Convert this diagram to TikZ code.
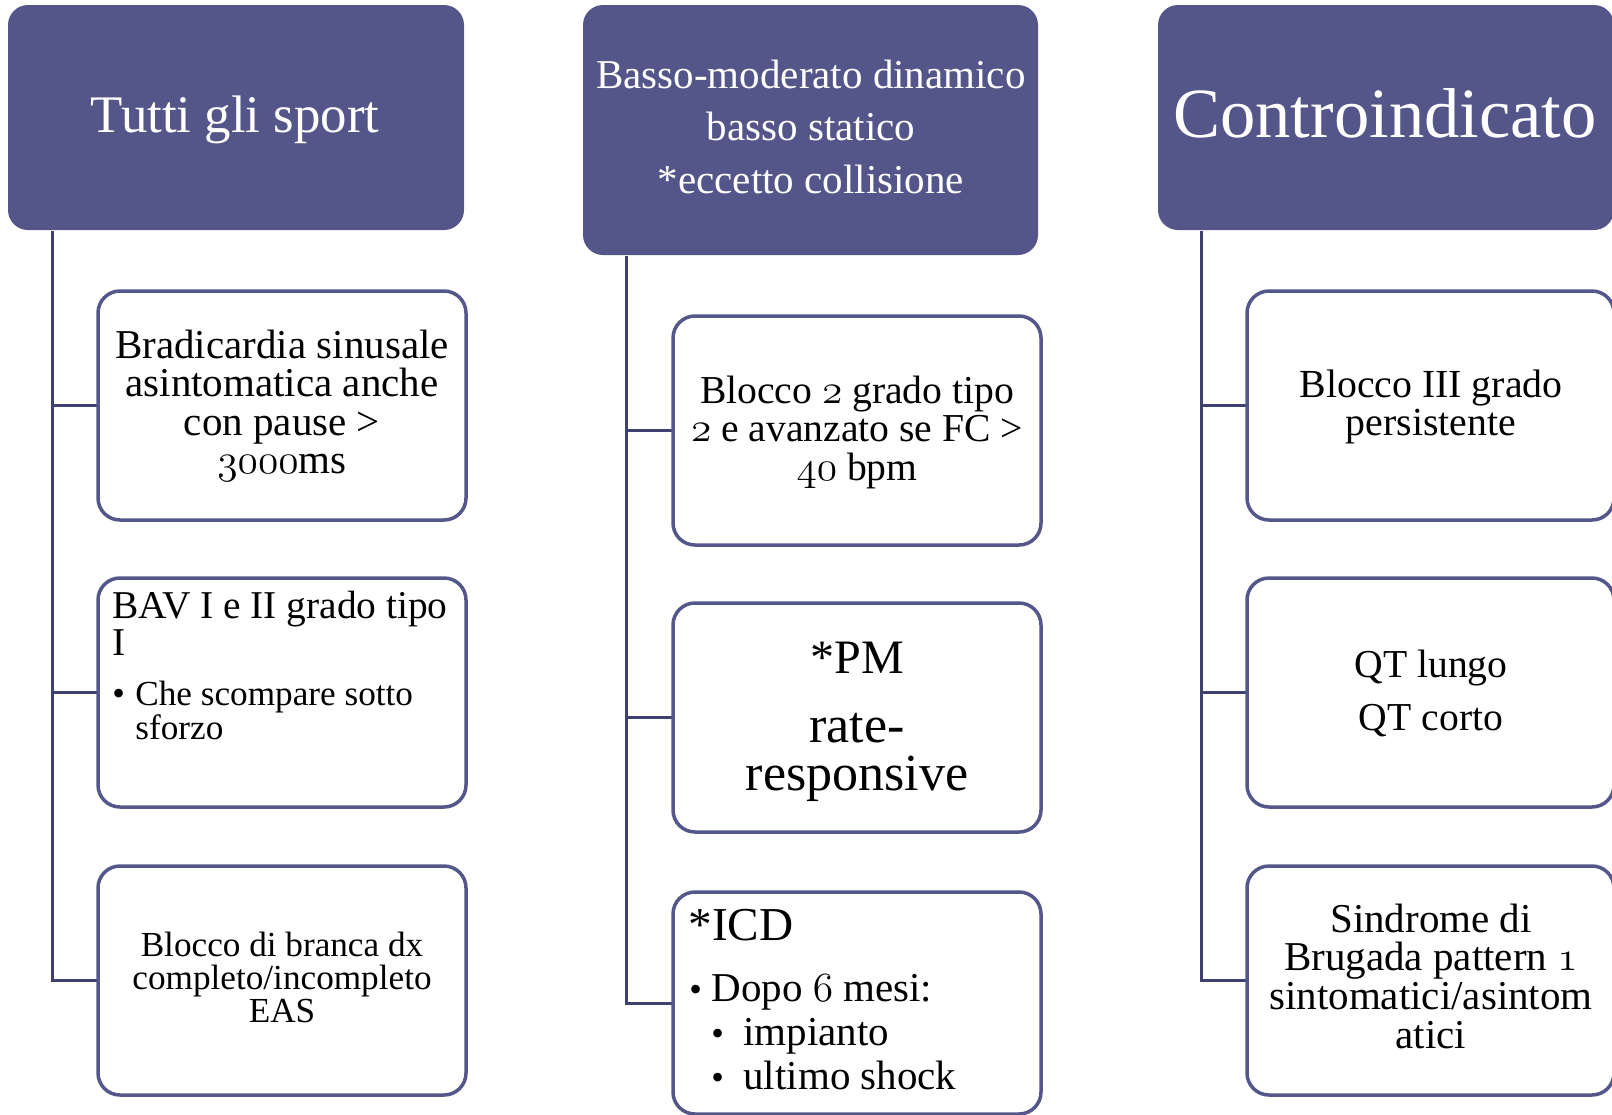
\documentclass[tikz,border=0pt]{standalone}
\usepackage{fontspec}
\setmainfont{Liberation Serif}
\definecolor{hdr}{RGB}{84,86,138}
\definecolor{bord}{RGB}{84,87,138}
\definecolor{conncol}{RGB}{63,65,112}
\newcommand{\osn}[1]{{\usefont{OML}{cmm}{m}{it}#1}}
\newcommand{\bul}{{\fontsize{18}{18}\selectfont •}}
\begin{document}
\begin{tikzpicture}[x=0.5pt,y=-0.5pt,
  hdrbox/.style={fill=hdr, draw=none, rounded corners=10pt, inner sep=0pt, minimum width=228pt, minimum height=112.5pt},
  itembox/.style={draw=bord, line width=1.75pt, fill=white, rounded corners=11pt, inner sep=0pt, minimum width=184pt, minimum height=114.5pt},
  conn/.style={draw=conncol, line width=1.5pt},
  txt/.style={inner sep=0pt, anchor=base, text=black},
  ltxt/.style={inner sep=0pt, anchor=base west, text=black},
  htxt/.style={inner sep=0pt, anchor=base, text=white}]
\useasboundingbox (0,0) rectangle (1612,1114);
\clip (0,0) rectangle (1612,1114);

% connector tops
\coordinate (lv) at (52,231);
\coordinate (mv) at (626,256);
\coordinate (rv) at (1201,231);

% headers
\node[hdrbox] (h1) at (236,117.5) {};
\node[hdrbox, minimum width=227.5pt, minimum height=125pt] (h2) at (810.5,130) {};
\node[hdrbox] (h3) at (1386,117.5) {};

\node[htxt] (h1t) at (235,132) {\fontsize{26.4}{26.4}\selectfont Tutti gli sport};
\node[htxt] (h2t) at (811,88) {\parbox[t]{225pt}{\centering\fontsize{20.5}{26.25}\selectfont Basso-moderato dinamico\\basso statico\\{}*eccetto collisione}};
\node[htxt] (h3t) at (1385,137) {\fontsize{35.3}{35.3}\selectfont Controindicato};

% item box positions
\coordinate (l1c) at (282,405.5);
\coordinate (l2c) at (282,692.5);
\coordinate (l3c) at (282,980.5);
\coordinate (m1c) at (857,430.5);
\coordinate (m2c) at (857,717.5);
\coordinate (m3c) at (857,1003);
\coordinate (r1c) at (1430.5,405.5);
\coordinate (r2c) at (1430.5,692.5);
\coordinate (r3c) at (1430.5,980.5);

% connectors (drawn first, boxes cover their ends)
\draw[conn] (lv) |- (l1c);
\draw[conn] (lv) |- (l2c);
\draw[conn] (lv) |- (l3c);
\draw[conn] (mv) |- (m1c);
\draw[conn] (mv) |- (m2c);
\draw[conn] (mv) |- (m3c);
\draw[conn] (rv) |- (r1c);
\draw[conn] (rv) |- (r2c);
\draw[conn] (rv) |- (r3c);

\node[itembox] (l1) at (l1c) {};
\node[itembox] (l2) at (l2c) {};
\node[itembox] (l3) at (l3c) {};
\node[itembox] (m1) at (m1c) {};
\node[itembox] (m2) at (m2c) {};
\node[itembox, minimum height=111pt] (m3) at (m3c) {};
\node[itembox, minimum width=183.5pt] (r1) at (r1c) {};
\node[itembox, minimum width=183.5pt] (r2) at (r2c) {};
\node[itembox, minimum width=183.5pt] (r3) at (r3c) {};

% left column texts
\node[txt] (l1t) at (282,358) {\parbox[t]{182pt}{\centering\fontsize{20.5}{19.25}\selectfont Bradicardia sinusale\\asintomatica anche\\con pause >\\\osn{3000}ms}};
\node[ltxt] (l2t) at (112,618) {\parbox[t]{176pt}{\raggedright\fontsize{19.7}{18.5}\selectfont BAV I e II grado tipo\\I}};
\node[ltxt] (l2b) at (112,705) {\parbox[t]{176pt}{\raggedright\fontsize{17.6}{16}\selectfont \makebox[11.5pt][l]{\bul}Che scompare sotto\\\hspace*{11.5pt}sforzo}};
\node[txt] (l3t) at (282,956) {\parbox[t]{182pt}{\centering\fontsize{17.6}{16.5}\selectfont Blocco di branca dx\\completo/incompleto\\EAS}};

% middle column texts
\node[txt] (m1t) at (857,403) {\parbox[t]{182pt}{\centering\fontsize{19.8}{19.25}\selectfont Blocco \osn{2} grado tipo\\\osn{2} e avanzato se FC >\\\osn{40} bpm}};
\node[txt] (m2a) at (857,673) {\fontsize{24}{24}\selectfont *PM};
\node[txt] (m2b) at (857,742) {\parbox[t]{182pt}{\centering\fontsize{26}{24}\selectfont rate-\\responsive}};
\node[ltxt] (m3a) at (688,940) {\fontsize{23.6}{23.6}\selectfont *ICD};
\node[ltxt] (m3b) at (689,1001) {\parbox[t]{176pt}{\raggedright\fontsize{20.5}{22}\selectfont \makebox[11pt][l]{\bul}Dopo \osn{6} mesi:\\\hspace*{11pt}\makebox[16pt][l]{\bul}impianto\\\hspace*{11pt}\makebox[16pt][l]{\bul}ultimo shock}};

% right column texts
\node[txt] (r1t) at (1431,397) {\parbox[t]{182pt}{\centering\fontsize{19.9}{19.25}\selectfont Blocco III grado\\persistente}};
\node[txt] (r2t) at (1431,677) {\parbox[t]{182pt}{\centering\fontsize{19.8}{19.25}\selectfont QT lungo\\[7.25pt]QT corto}};
\node[txt] (r3t) at (1431,932) {\parbox[t]{182pt}{\centering\fontsize{20.5}{19.35}\selectfont Sindrome di\\Brugada pattern \osn{1}\\sintomatici/asintom\\atici}};
\end{tikzpicture}
\end{document}
